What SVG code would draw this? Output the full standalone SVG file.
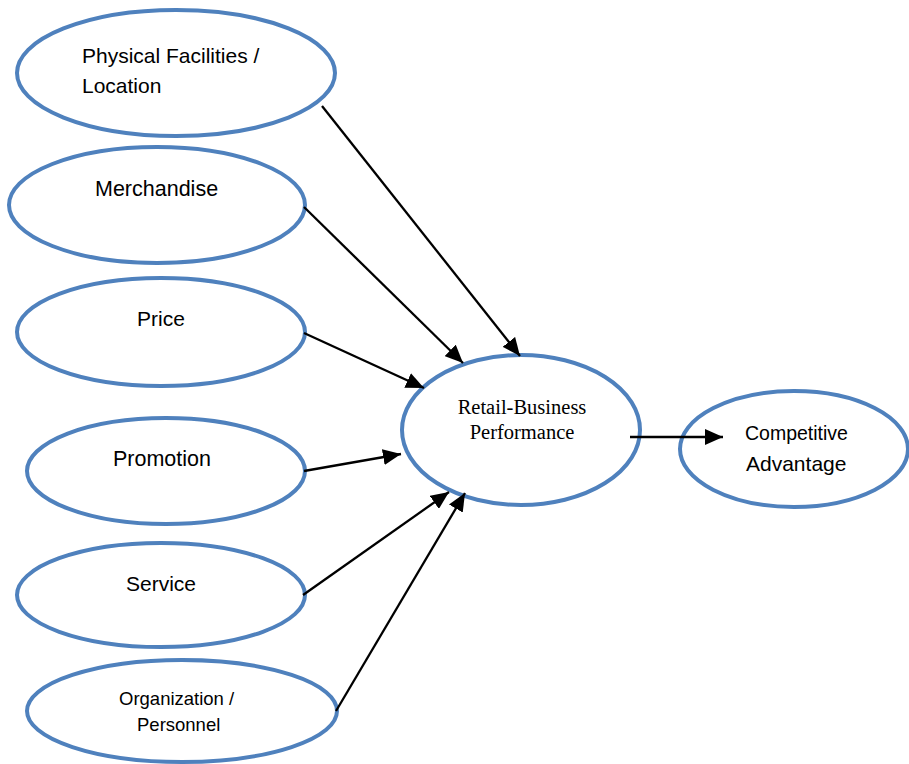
<svg xmlns="http://www.w3.org/2000/svg" width="909" height="764" viewBox="0 0 909 764">
<style>
.n{fill:#fff;stroke:#4F81BD;stroke-width:4}
.t{font-family:"Liberation Sans",Arial,sans-serif;fill:#000}
.s{font-family:"Liberation Serif","Times New Roman",serif;fill:#000}
.c{stroke:#000;stroke-width:2.3;fill:none;marker-end:url(#b)}
</style>
<defs>
<marker id="b" markerWidth="18" markerHeight="16" refX="18" refY="8" orient="auto" markerUnits="userSpaceOnUse" viewBox="0 0 18 16">
<path d="M0,0 L18,8 L0,16 z" fill="#000"/>
</marker>
</defs>
<rect width="909" height="764" fill="#fff"/>
<g id="physical">
<ellipse class="n" cx="176" cy="73" rx="159" ry="63"/>
<text class="t" x="82" y="63" font-size="21">Physical Facilities /</text>
<text class="t" x="82" y="93" font-size="21">Location</text>
</g>
<g id="merchandise">
<ellipse class="n" cx="157" cy="205" rx="148" ry="58"/>
<text class="t" x="95" y="196" font-size="21.5">Merchandise</text>
</g>
<g id="price">
<ellipse class="n" cx="161" cy="332" rx="144" ry="54"/>
<text class="t" x="137" y="326" font-size="21">Price</text>
</g>
<g id="promotion">
<ellipse class="n" cx="166" cy="471" rx="139" ry="53"/>
<text class="t" x="113" y="466" font-size="21.5">Promotion</text>
</g>
<g id="service">
<ellipse class="n" cx="161" cy="595" rx="144" ry="52"/>
<text class="t" x="126" y="591" font-size="21">Service</text>
</g>
<g id="organization">
<ellipse class="n" cx="182" cy="711" rx="155" ry="51"/>
<text class="t" x="119" y="705" font-size="18.5">Organization /</text>
<text class="t" x="137" y="731" font-size="18.5">Personnel</text>
</g>
<g id="performance">
<ellipse class="n" cx="521" cy="430" rx="119" ry="75"/>
<text class="s" x="522" y="414" font-size="20.5" text-anchor="middle">Retail-Business</text>
<text class="s" x="522" y="439" font-size="20.5" text-anchor="middle">Performance</text>
</g>
<g id="competitive">
<ellipse class="n" cx="794" cy="449" rx="114" ry="58"/>
<text class="t" x="745" y="440" font-size="19.5">Competitive</text>
<text class="t" x="746" y="471" font-size="21">Advantage</text>
</g>
<g id="connectors">
<line class="c" x1="322" y1="106" x2="520" y2="356"/>
<line class="c" x1="304" y1="207" x2="463" y2="363"/>
<line class="c" x1="304" y1="333" x2="424" y2="388"/>
<line class="c" x1="304" y1="471" x2="401" y2="454"/>
<line class="c" x1="303" y1="595" x2="449" y2="492"/>
<line class="c" x1="336" y1="711" x2="465" y2="493"/>
<line class="c" x1="630" y1="437" x2="723" y2="437"/>
</g>
</svg>
